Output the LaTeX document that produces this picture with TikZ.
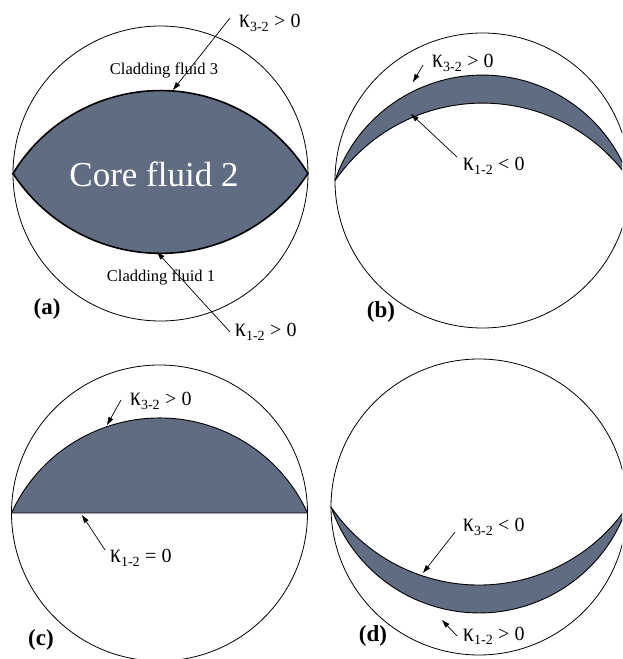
\documentclass[tikz,border=0pt]{standalone}
\usepackage{fontspec}
\setmainfont{Liberation Serif}
\usetikzlibrary{arrows.meta}
\definecolor{corecol}{HTML}{606C82}
\newcommand\mykap{\scalebox{1.08}[1.35]{κ}}
\tikzset{
  outer/.style={draw=black, line width=0.8pt},
  core/.style={fill=corecol, draw=black, line width=0.9pt},
  lens/.style={fill=corecol, draw=black, line width=1.6pt},
  pointer/.style={draw=black, line width=0.7pt, -{Triangle[length=8pt,width=5pt]}},
  klabel/.style={anchor=base west, inner sep=0pt, font=\fontsize{20}{22}\selectfont},
  clad/.style={anchor=base, inner sep=0pt, font=\fontsize{16.5}{18}\selectfont},
  panel/.style={anchor=base, inner sep=0pt, font=\fontsize{23}{25}\selectfont\bfseries}
}
\begin{document}
\begin{tikzpicture}[x=1pt,y=1pt]
\useasboundingbox (0,0) rectangle (622,659);
\clip (0,0) rectangle (622,659);
\fill[white] (0,0) rectangle (622,659);

% ---------- (a) ----------
\draw[outer] (160.5,485.5) circle[radius=147.5];
\path[lens] (13,485.5) arc[start angle=148.7, end angle=31.3, radius=172.6]
  arc[start angle=326.9, end angle=213.1, radius=176] -- cycle;
\node[anchor=base, inner sep=0pt, text=white, font=\fontsize{35}{38}\selectfont] (core) at (154,472) {Core fluid 2};
\node[clad] (clad3) at (164,584) {Cladding fluid 3};
\node[clad] (clad1) at (161,377) {Cladding fluid 1};
\node[panel] (pa) at (47,344) {(a)};
\node[klabel] (ka3) at (239,631) {\mykap\textsubscript{3-2} > 0};
\node[klabel] (ka1) at (235,322) {\mykap\textsubscript{1-2} > 0};
\coordinate (ta3) at (230,641); \coordinate (ha3) at (173,569);
\coordinate (ta1) at (230,327); \coordinate (ha1) at (157,407);
\draw[pointer] (ta3) -- (ha3);
\draw[pointer] (ta1) -- (ha1);

% ---------- (b) ----------
\draw[outer] (482.5,478.5) circle[radius=147.5];
\path[core] (335,478.5) arc[start angle=161.1, end angle=18.9, radius=155.9]
  arc[start angle=34.6, end angle=145.4, radius=179.1] -- cycle;
\node[panel] (pb) at (381,341) {(b)};
\node[klabel] (kb3) at (432,591) {\mykap\textsubscript{3-2} > 0};
\node[klabel] (kb1) at (463,488) {\mykap\textsubscript{1-2} < 0};
\coordinate (tb3) at (423,594); \coordinate (hb3) at (413,577);
\coordinate (tb1) at (457,502); \coordinate (hb1) at (411,545);
\draw[pointer] (tb3) -- (hb3);
\draw[pointer] (tb1) -- (hb1);

% ---------- (c) ----------
\draw[outer] (159.5,146) circle[radius=148];
\path[core] (11.5,146) arc[start angle=155.4, end angle=24.6, radius=162.8] -- cycle;
\node[panel] (pc) at (41,13) {(c)};
\node[klabel] (kc3) at (130,253) {\mykap\textsubscript{3-2} > 0};
\node[klabel] (kc1) at (110,96) {\mykap\textsubscript{1-2} = 0};
\coordinate (tc3) at (121,259); \coordinate (hc3) at (107,234);
\coordinate (tc1) at (105,109); \coordinate (hc1) at (82,144);
\draw[pointer] (tc3) -- (hc3);
\draw[pointer] (tc1) -- (hc1);

% ---------- (d) ----------
\draw[outer] (479,152) circle[radius=148];
\path[core] (331,152) arc[start angle=214.4, end angle=325.6, radius=179.4]
  arc[start angle=341.2, end angle=198.8, radius=156.3] -- cycle;
\node[panel] (pd) at (373,17) {(d)};
\node[klabel] (kd3) at (463,127) {\mykap\textsubscript{3-2} < 0};
\node[klabel] (kd1) at (463,18) {\mykap\textsubscript{1-2} > 0};
\coordinate (td3) at (455,127); \coordinate (hd3) at (423,86);
\coordinate (td1) at (457,23); \coordinate (hd1) at (442,39);
\draw[pointer] (td3) -- (hd3);
\draw[pointer] (td1) -- (hd1);
\end{tikzpicture}
\end{document}
